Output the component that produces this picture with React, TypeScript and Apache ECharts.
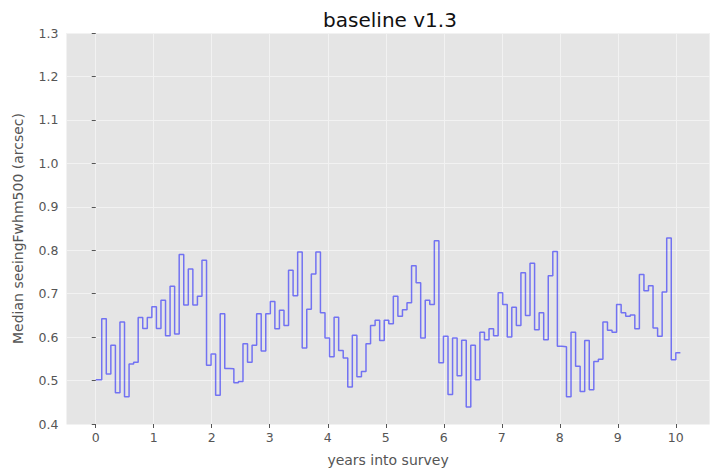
import React, { useEffect, useRef } from "react";
import * as echarts from "echarts";

// Median seeingFwhm500 per time bin (steps)
const medianSeeing: number[] = [
  0.502, 0.642, 0.515, 0.581, 0.472, 0.635, 0.463, 0.538, 0.542, 0.645,
  0.620, 0.645, 0.670, 0.620, 0.685, 0.603, 0.717, 0.607, 0.790, 0.674,
  0.757, 0.674, 0.694, 0.777, 0.535, 0.561, 0.466, 0.654, 0.528, 0.527,
  0.495, 0.498, 0.585, 0.542, 0.581, 0.654, 0.568, 0.654, 0.682, 0.619,
  0.662, 0.627, 0.754, 0.695, 0.796, 0.575, 0.664, 0.745, 0.796, 0.656,
  0.598, 0.555, 0.646, 0.569, 0.552, 0.485, 0.604, 0.509, 0.521, 0.585,
  0.627, 0.639, 0.592, 0.639, 0.631, 0.694, 0.648, 0.663, 0.679, 0.764,
  0.725, 0.598, 0.685, 0.675, 0.822, 0.541, 0.602, 0.468, 0.598, 0.511,
  0.593, 0.439, 0.581, 0.502, 0.611, 0.594, 0.619, 0.603, 0.702, 0.675,
  0.600, 0.669, 0.627, 0.748, 0.650, 0.770, 0.617, 0.656, 0.594, 0.741,
  0.797, 0.579, 0.578, 0.463, 0.611, 0.533, 0.475, 0.592, 0.479, 0.544,
  0.549, 0.635, 0.616, 0.611, 0.675, 0.656, 0.648, 0.651, 0.619, 0.744,
  0.707, 0.718, 0.621, 0.602, 0.704, 0.828, 0.548, 0.564,
];

// time grid (years into survey): first bin starts at 0
const firstEdge = 0.1034;
const binWidth = 0.07855;

const xTicks: number[] = [0, 1, 2, 3, 4, 5, 6, 7, 8, 9, 10];

const titleText = "baseline v1.3";
const xName = "years into survey";
const yName = "Median seeingFwhm500 (arcsec)";

export default function App() {
  const ref = useRef<HTMLDivElement>(null);

  useEffect(() => {
    if (!ref.current) return;
    const chart = echarts.init(ref.current, undefined, { renderer: "svg" });

    const edge = (k: number) => (k === 0 ? 0 : firstEdge + (k - 1) * binWidth);
    const data: number[][] = medianSeeing.map((v, i) => [edge(i), v]);
    data.push([edge(medianSeeing.length), medianSeeing[medianSeeing.length - 1]]);

    const font = "DejaVu Sans";
    chart.setOption({
      animation: false,
      backgroundColor: "#ffffff",
      title: {
        text: titleText,
        left: 385,
        textAlign: "center",
        top: 5,
        textStyle: { fontFamily: font, fontSize: 20, fontWeight: "normal", color: "#111111" },
      },
      grid: {
        left: 66.5,
        right: 4.4,
        top: 33,
        bottom: 47.5,
        show: true,
        backgroundColor: "#E5E5E5",
        borderWidth: 0,
      },
      xAxis: {
        type: "value",
        min: -0.504,
        max: 10.583,
        name: xName,
        nameLocation: "middle",
        nameGap: 29,
        nameTextStyle: { fontFamily: font, fontSize: 14, color: "#555555" },
        axisLine: { show: false },
        axisTick: {
          show: true,
          length: 4,
          inside: false,
          customValues: xTicks,
          lineStyle: { color: "#555555", width: 1 },
        },
        axisLabel: {
          customValues: xTicks,
          margin: 7,
          fontFamily: font,
          fontSize: 12.5,
          color: "#555555",
          formatter: (v: number) => String(v),
        },
        splitLine: { show: true, lineStyle: { color: "#f2f2f2", width: 1 } },
      },
      yAxis: {
        type: "value",
        min: 0.4,
        max: 1.3,
        interval: 0.1,
        name: yName,
        nameLocation: "middle",
        nameGap: 42,
        nameTextStyle: { fontFamily: font, fontSize: 14, color: "#555555" },
        axisLine: { show: false },
        axisTick: { show: true, length: 4, inside: false, lineStyle: { color: "#555555", width: 1 } },
        axisLabel: {
          margin: 8,
          fontFamily: font,
          fontSize: 12.5,
          color: "#555555",
          formatter: (v: number) => v.toFixed(1),
        },
        splitLine: { show: true, lineStyle: { color: "#f2f2f2", width: 1 } },
      },
      series: [
        {
          type: "line",
          step: "end",
          data,
          showSymbol: false,
          symbol: "none",
          lineStyle: { color: "rgba(0,0,255,0.5)", width: 1.5 },
        },
      ],
    });

    return () => chart.dispose();
  }, []);

  return (
    <div
      ref={ref}
      style={{ position: "absolute", left: 0, top: 0, width: 714, height: 472 }}
    />
  );
}
